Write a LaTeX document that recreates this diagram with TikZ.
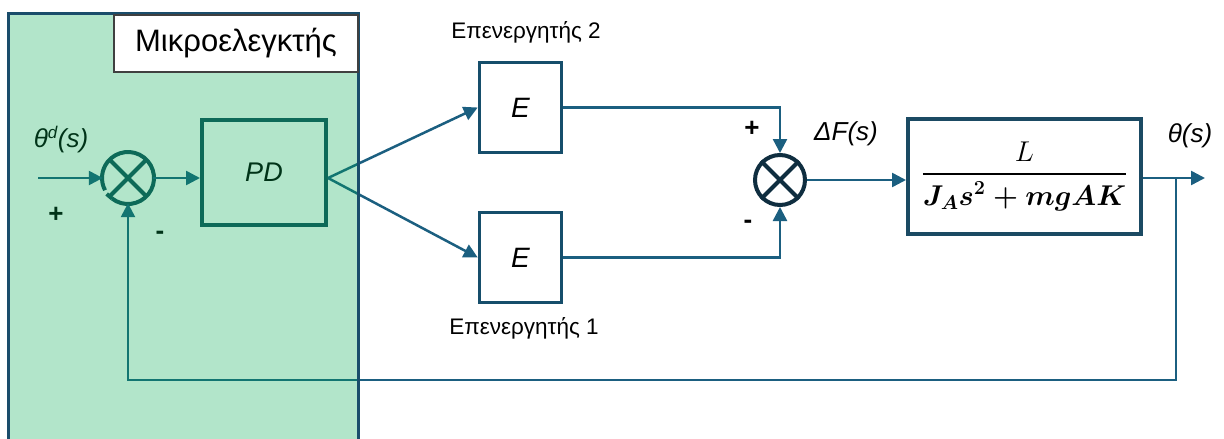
\documentclass[tikz,border=0pt]{standalone}
\usepackage{fontspec}
\usepackage{amsmath}
\usepackage{graphicx}
\setmainfont{Liberation Sans}
\usetikzlibrary{arrows.meta}
\definecolor{lineblue}{RGB}{27,95,128}
\definecolor{boxblue}{RGB}{22,78,107}
\definecolor{plantblue}{RGB}{27,74,99}
\definecolor{darkslate}{RGB}{19,79,92}
\definecolor{sumnavy}{RGB}{15,46,64}
\definecolor{greenbase}{RGB}{0,170,80}
\definecolor{mcuborder}{RGB}{26,77,107}
\definecolor{titleborder}{RGB}{64,64,64}
\tikzset{
  conn/.style={draw=lineblue, line width=2.5pt},
  arr/.style={conn, -{Triangle[length=14pt,width=14pt]}},
  sumnode/.style={circle, minimum size=50pt, inner sep=0pt},
  eblock/.style={draw=boxblue, line width=3.5pt, minimum width=82pt, minimum height=90pt,
    font=\fontsize{28}{30}\selectfont\itshape},
  lbl/.style={font=\fontsize{22.5}{24}\selectfont},
  sig/.style={font=\fontsize{26}{28}\selectfont\itshape},
  sgn/.style={font=\fontsize{26}{28}\selectfont\bfseries}
}
\begin{document}
\begin{tikzpicture}[x=1pt,y=-1pt]
\useasboundingbox (0,0) rectangle (1224,439);
\fill[white] (0,0) rectangle (1224,439);
\begin{scope}
\clip (0,0) rectangle (1224,439);
% --- nodes ---
\node[sumnode] (s1) at (128,178) {};
\node[draw=darkslate, line width=4pt, fill=none, minimum width=124pt, minimum height=105pt,
  font=\fontsize{27}{30}\selectfont\itshape] (pd) at (264,172.5) {PD};
\node[eblock] (e2) at (520.5,107.5) {E};
\node[eblock] (e1) at (520.5,257.5) {E};
\node[sumnode, draw=sumnavy, line width=4pt] (s2) at (780,180) {};
\draw[sumnavy, line width=4pt] (s2.north west) -- (s2.south east) (s2.north east) -- (s2.south west);
\node[draw=plantblue, line width=4pt, minimum width=233pt, minimum height=115pt, inner sep=0pt] (plant) at (1024.5,176.5)
  {\scalebox{1.15}{\fontsize{24}{28}\selectfont$\displaystyle\genfrac{}{}{2pt}{0}{\,L\,}{\boldsymbol{J_A s^2 + mgAK}}$}};
% sum1 drawing (with notch)
\draw[darkslate, line width=4pt] (s1.center) ++(128:26) arc[start angle=128, end angle=-208, radius=26];
\draw[darkslate, line width=4pt] (s1.center) ++(128:26) -- ++(-140:7);
\draw[darkslate, line width=4pt] (s1.north west) -- (s1.south east) (s1.north east) -- (s1.south west);
% --- coordinates ---
\coordinate (in) at (38,178);
\coordinate (pdout) at (pd.east |- s1);
\coordinate (br) at (1176,178);
\coordinate (out) at (1205,178);
\coordinate (fbc) at (1176,380);
% --- connectors ---
\draw[arr] (in) -- (s1.west);
\draw[arr] (s1.east) -- (s1.east -| pd.west);
\draw[arr] (pdout) -- (e2.west);
\draw[arr] (pdout) -- (e1.west);
\draw[arr] (e2.east) -| (s2.north);
\draw[arr] (e1.east) -| (s2.south);
\draw[arr] (s2.east) -- (s2.east -| plant.west);
\draw[arr] (plant.east |- out) -- (out);
\draw[arr] (br) -- (fbc) -| (s1.south);
% --- labels ---
\node[sig, text=black] (thd) at (61,140) {θ\textsuperscript{\fontsize{17}{17}\selectfont d}(s)};
\node[sgn] (p1) at (56,215) {+};
\node[sgn] (m1) at (160,235) {-};
\node[sgn] (p2) at (752,129) {+};
\node[sgn] (m2) at (748,224) {-};
\node[lbl] (l2) at (526,32) {Επενεργητής 2};
\node[lbl] (l1) at (524,328) {Επενεργητής 1};
\node[sig] (df) at (846,134) {ΔF(s)};
\node[sig] (th) at (1190,136) {θ(s)};
% --- microcontroller overlay ---
\fill[greenbase, fill opacity=0.3] (8,13) rectangle (358,460);
\draw[mcuborder, line width=3pt] (8,460) -- (8,13) -- (358,13) -- (358,460);
\node[draw=titleborder, fill=white, line width=2pt, minimum width=244pt, minimum height=57pt,
  anchor=north west, font=\fontsize{31}{33}\selectfont] (title) at (113,14) {Μικροελεγκτής};
\end{scope}
\end{tikzpicture}
\end{document}
